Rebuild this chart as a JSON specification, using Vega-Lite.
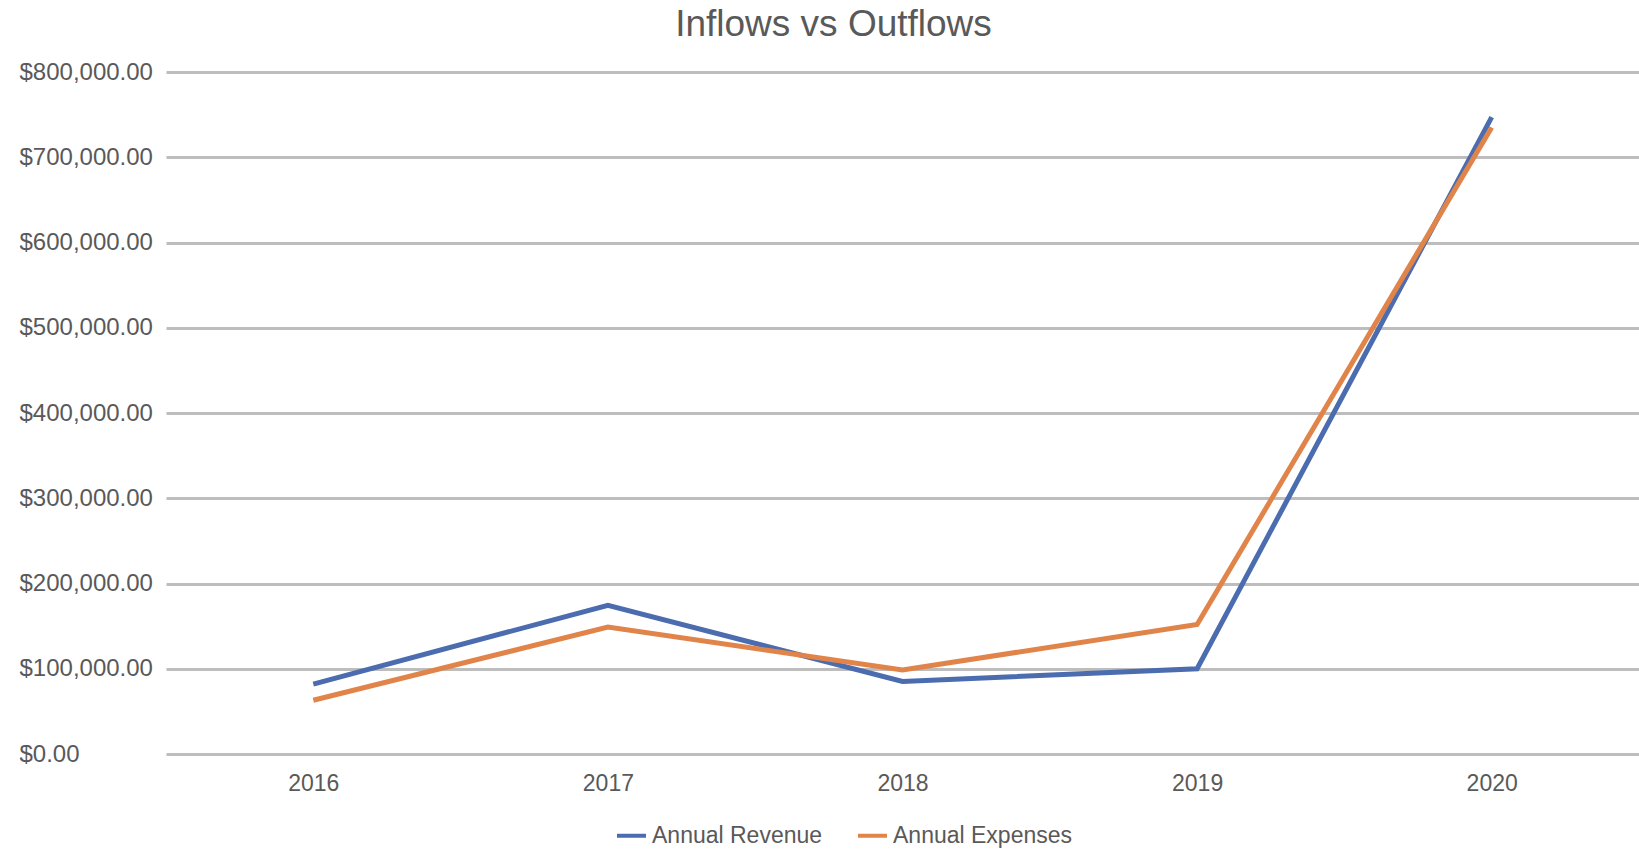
{
  "$schema": "https://vega.github.io/schema/vega-lite/v6.json",
  "autosize": {"type": "none"},
  "padding": {"left": 166, "top": 72, "right": 0, "bottom": 104},
  "width": 1473,
  "height": 682,
  "background": "white",
  "title": {
    "text": "Inflows vs Outflows",
    "font": "Liberation Sans",
    "fontSize": 37,
    "fontWeight": "normal",
    "color": "#595959",
    "anchor": "middle",
    "frame": "group",
    "baseline": "top",
    "offset": 16,
    "dx": -69
  },
  "data": {
    "values": [
      {"year": "2016", "series": "Annual Revenue", "value": 82000},
      {"year": "2017", "series": "Annual Revenue", "value": 174500},
      {"year": "2018", "series": "Annual Revenue", "value": 85000},
      {"year": "2019", "series": "Annual Revenue", "value": 100000},
      {"year": "2020", "series": "Annual Revenue", "value": 747000},
      {"year": "2016", "series": "Annual Expenses", "value": 63000},
      {"year": "2017", "series": "Annual Expenses", "value": 149000},
      {"year": "2018", "series": "Annual Expenses", "value": 98500},
      {"year": "2019", "series": "Annual Expenses", "value": 152000},
      {"year": "2020", "series": "Annual Expenses", "value": 735000}
    ]
  },
  "mark": {"type": "line", "strokeWidth": 5, "strokeJoin": "miter", "strokeCap": "butt"},
  "encoding": {
    "x": {
      "field": "year",
      "type": "ordinal",
      "scale": {"type": "point", "padding": 0.5},
      "axis": {
        "title": null,
        "labelAngle": 0,
        "ticks": false,
        "domain": false,
        "grid": false,
        "labelPadding": 18,
        "labelFont": "Liberation Sans",
        "labelFontSize": 23,
        "labelColor": "#595959"
      }
    },
    "y": {
      "field": "value",
      "type": "quantitative",
      "scale": {"domain": [0, 800000], "nice": false},
      "axis": {
        "title": null,
        "values": [0, 100000, 200000, 300000, 400000, 500000, 600000, 700000, 800000],
        "format": "$,.2f",
        "ticks": false,
        "domain": false,
        "grid": true,
        "gridColor": "#bdbdbd",
        "gridWidth": 3,
        "labelAlign": "left",
        "labelPadding": 147,
        "labelFont": "Liberation Sans",
        "labelFontSize": 24,
        "labelColor": "#595959"
      }
    },
    "color": {
      "field": "series",
      "type": "nominal",
      "scale": {"domain": ["Annual Revenue", "Annual Expenses"], "range": ["#4b6cae", "#e0844a"]},
      "legend": {
        "title": null,
        "orient": "none",
        "direction": "horizontal",
        "legendX": 449,
        "legendY": 747,
        "symbolType": "stroke",
        "symbolSize": 841,
        "symbolStrokeWidth": 4,
        "labelOffset": 4,
        "labelLimit": 0,
        "columnPadding": 27,
        "labelFont": "Liberation Sans",
        "labelFontSize": 23,
        "labelColor": "#595959"
      }
    }
  },
  "config": {"view": {"stroke": null}}
}
